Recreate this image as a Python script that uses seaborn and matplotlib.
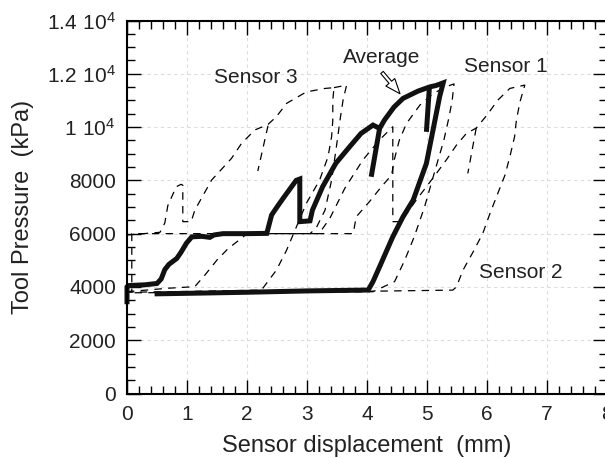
import numpy as np
import matplotlib
matplotlib.use("Agg")
import matplotlib.pyplot as plt
from matplotlib.ticker import MultipleLocator, FixedLocator, FixedFormatter
import seaborn as sns

nan = np.nan

# Average of the three sensors (thick solid loop)
avg_x = [0.0, 0.0, 0.02, 0.3, 0.5, 0.57, 0.63, 0.7, 0.83, 0.9, 0.99, 1.08, 1.25, 1.38,
         1.45, 1.6, 2.0, 2.33, 2.41, 2.5, 2.6, 2.82, 2.88, 2.88, 3.05, 3.09, 3.26, 3.48,
         3.71, 3.9, 4.1, 4.21, 4.29, 4.45, 4.6, 4.85, 5.05, 5.15, 5.27, 5.21, 5.1, 4.99,
         4.77, 4.6, 4.43, 4.21, 4.1, 4.02, 3.0, 2.0, 1.0, 0.46,
         nan, 4.21, 4.07, nan, 5.04, 4.99]
avg_y = [3350, 4000, 4050, 4080, 4130, 4300, 4650, 4850, 5070, 5300, 5640, 5880, 5900, 5860,
         5950, 6000, 6000, 6010, 6700, 7000, 7320, 8000, 8050, 6450, 6480, 6880, 7760, 8640,
         9260, 9760, 10075, 9950, 10260, 10750, 11075, 11350, 11510, 11560, 11660, 11136, 9886, 8637,
         7260, 6633, 5883, 4757, 4200, 3883, 3850, 3800, 3760, 3740,
         nan, 9950, 8135, nan, 11500, 9820]

# Sensor 1 (middle loop)
s1_x = [0.0, 0.08, 0.08, 1.0, 2.0, 3.0, 3.77, 3.82, 4.04, 4.24, 4.41, 4.46, 4.54, 4.66,
        4.88, 5.1, 5.3, 5.45, 5.42, 5.36, 5.28, 5.15, 4.96, 4.79, 4.63, 4.46, 4.1, 2.0, 0.0]
s1_y = [3780, 3850, 6000, 6000, 6000, 6000, 6000, 6630, 7200, 7760, 8200, 8820, 9520, 10140,
        10820, 11250, 11500, 11620, 11000, 10300, 9500, 8500, 7010, 5900, 5010, 4200, 3820, 3800, 3780]

# Sensor 2 (right loop)
s2_x = [0.0, 0.68, 1.13, 1.3, 1.5, 1.69, 1.91, 2.0, 3.2, 3.38, 3.63, 3.93, 4.2, 4.43, 4.43,
        4.57, 4.82, 4.99, 5.16, 5.32, 5.49, 5.66, 5.82, 6.0, 6.18, 6.38, 6.63, 6.55, 6.49,
        6.46, 6.38, 6.3, 6.18, 6.05, 5.93, 5.77, 5.6, 5.49, 5.43, 4.1, 0.5,
        nan, 5.82, 5.68]
s2_y = [3820, 3950, 4010, 4450, 5010, 5450, 5830, 6000, 6000, 6570, 7700, 8760, 9500, 10010, 6450,
        6450, 7260, 7760, 8270, 8760, 9320, 9770, 9960, 10450, 11010, 11450, 11575, 10950, 10260,
        9640, 8880, 8200, 7510, 6760, 6010, 5320, 4630, 4000, 3880, 3840, 3790,
        nan, 9960, 8260]

# Sensor 3 (left loop)
s3_x = [0.0, 0.55, 0.63, 0.68, 0.82, 0.9, 0.93, 0.93, 1.07, 1.13, 1.41, 1.74, 1.91, 2.13,
        2.35, 2.49, 2.66, 2.99, 3.3, 3.45, 3.43, 3.43, 3.41, 3.35, 3.21, 2.99, 2.8, 2.66,
        2.49, 2.24, 1.0, 0.0,
        nan, 2.35, 2.18,
        nan, 3.45, 3.66, 3.6, 3.55, 3.49, 3.41, 3.3, 3.15, 3.05]
s3_y = [5950, 6050, 6400, 7050, 7760, 7850, 7820, 6450, 6450, 6880, 8010, 8820, 9390, 9890,
        10100, 10390, 10890, 11320, 11450, 11480, 11010, 10260, 9640, 8880, 8010, 7140, 6130, 5380,
        4630, 3880, 3830, 3800,
        nan, 10050, 8350,
        nan, 11480, 11575, 11000, 10260, 9260, 8010, 6880, 6200, 6000]

x_ticks = [0, 1, 2, 3, 4, 5, 6, 7, 8]
y_ticks = [0, 2000, 4000, 6000, 8000, 10000, 12000, 14000]
y_tick_labels = ["0", "2000", "4000", "6000", "8000",
                 r"$\mathregular{1\ 10^{4}}$", r"$\mathregular{1.2\ 10^{4}}$",
                 r"$\mathregular{1.4\ 10^{4}}$"]

sns.set_theme(style="ticks")
plt.rcParams["font.family"] = ["Liberation Sans", "DejaVu Sans"]
plt.rcParams["mathtext.fontset"] = "custom"
plt.rcParams["mathtext.rm"] = "Liberation Sans"
plt.rcParams["mathtext.default"] = "regular"

fig = plt.figure(figsize=(6.05, 4.58), dpi=100)
ax = fig.add_axes([127 / 605, 1 - 393.5 / 458, 480 / 605, 373 / 458])


def draw_path(xs, ys, **kw):
    """Draw a polyline, breaking it into pieces at NaN entries."""
    xs = np.asarray(xs, float)
    ys = np.asarray(ys, float)
    breaks = np.where(np.isnan(xs))[0]
    start = 0
    for b in list(breaks) + [len(xs)]:
        seg_x, seg_y = xs[start:b], ys[start:b]
        if len(seg_x) > 1:
            sns.lineplot(x=seg_x, y=seg_y, sort=False, estimator=None, ax=ax, **kw)
        start = b + 1


dash_kw = dict(color="black", linewidth=0.9, linestyle=(0, (6, 5)))
for sx, sy in [(s3_x, s3_y), (s1_x, s1_y), (s2_x, s2_y)]:
    draw_path(sx, sy, **dash_kw)

draw_path(avg_x, avg_y, color="#111111", linewidth=3.6,
          solid_joinstyle="miter", solid_capstyle="butt", clip_on=False)

ax.set_xlim(0, 8)
ax.set_ylim(0, 14000)
ax.xaxis.set_major_locator(FixedLocator(x_ticks))
ax.xaxis.set_minor_locator(MultipleLocator(0.2))
ax.yaxis.set_major_locator(FixedLocator(y_ticks))
ax.yaxis.set_major_formatter(FixedFormatter(y_tick_labels))
ax.yaxis.set_minor_locator(MultipleLocator(500))

ax.grid(True, which="major", color="#dcdcdc", linestyle=(0, (3, 3)), linewidth=0.8)
ax.set_axisbelow(True)

ax.tick_params(which="both", direction="in", top=True, right=True, colors="black",
               labelcolor="#222222")
ax.tick_params(which="major", length=10, width=1.0, labelsize=15, pad=8)
ax.tick_params(which="minor", length=5.5, width=1.0)
for sp in ax.spines.values():
    sp.set_linewidth(1.5)
    sp.set_color("black")

ax.set_xlabel("Sensor displacement  (mm)", fontsize=17, color="#222222", labelpad=8)
ax.set_ylabel("Tool Pressure  (kPa)", fontsize=17, color="#222222", labelpad=9)

txt_kw = dict(fontsize=15, color="#222222", ha="center", va="baseline")
ax.text(2.14, 11640, "Sensor 3", **txt_kw)
ax.text(6.32, 12075, "Sensor 1", **txt_kw)
ax.text(6.57, 4320, "Sensor 2", **txt_kw)
ax.text(4.25, 12390, "Average", **txt_kw)
ax.annotate("", xy=(4.55, 11250), xytext=(4.25, 12050),
            arrowprops=dict(arrowstyle="simple,head_width=0.7,head_length=0.9,tail_width=0.2",
                            facecolor="white", edgecolor="black", linewidth=0.8,
                            shrinkA=0, shrinkB=0))

fig.savefig("out.png", dpi=100)
